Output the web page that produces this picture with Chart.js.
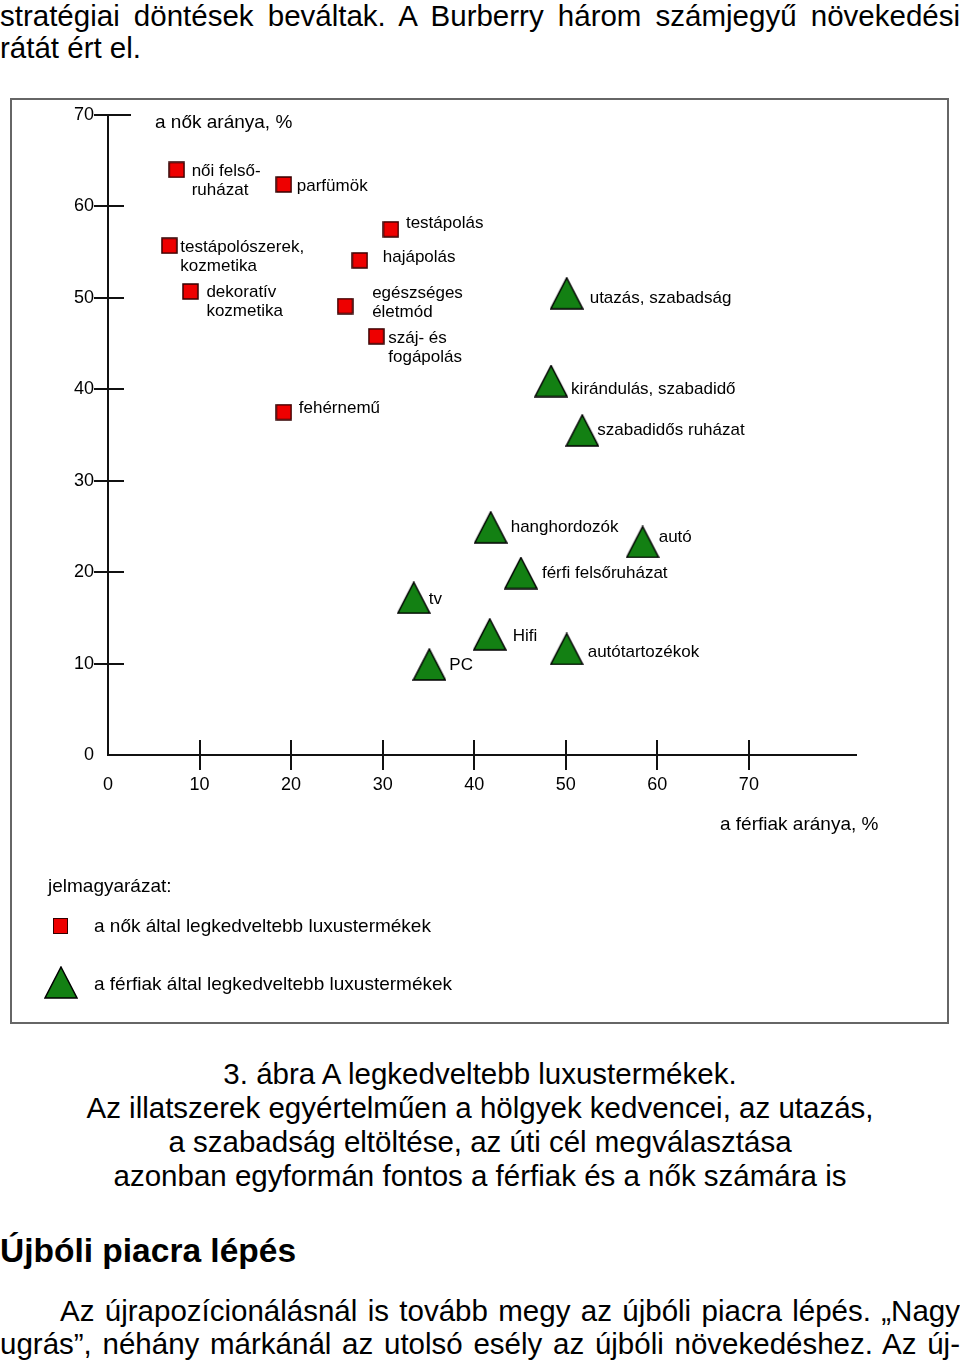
<!DOCTYPE html>
<html lang="hu">
<head>
<meta charset="utf-8">
<script src="https://cdn.jsdelivr.net/npm/chart.js@4/dist/chart.umd.min.js"></script>
<style>
  body { margin: 0; background: #fff; font-family: 'Liberation Sans', Arial, sans-serif; color: #000; }
  #page { position: relative; width: 960px; height: 1367px; overflow: hidden; }
  .txt { position: absolute; left: 0; width: 960px; font-size: 29.5px; line-height: 32px; margin: 0; white-space: nowrap; }
  .just { text-align: justify; text-align-last: justify; white-space: normal; }
  .cap { text-align: center; line-height: 34px; }
  #box { position: absolute; left: 10px; top: 98px; width: 935px; height: 922px; border: 2px solid #666; }
  #chart { position: absolute; left: 0; top: 0; }
  .leg { position: absolute; font-size: 19px; line-height: 22px; white-space: nowrap; }
  .sq { position: absolute; width: 13px; height: 14px; background: #ee0000; border: 1px solid #300; }
</style>
</head>
<body>
<div id="page">
  <div class="txt just" style="top:0">stratégiai döntések beváltak. A Burberry három számjegyű növekedési</div>
  <div class="txt" style="top:32px">rátát ért el.</div>

  <div id="box">
    <canvas id="chart" width="935" height="922"></canvas>
    <div class="leg" style="left:36px; top:775px">jelmagyarázat:</div>
    <div class="sq" style="left:41px; top:818px"></div>
    <div class="leg" style="left:82px; top:815px">a nők által legkedveltebb luxustermékek</div>
    <svg style="position:absolute; left:32px; top:866px" width="34" height="33">
      <polygon points="17,1 33,32 1,32" fill="#138013" stroke="#000" stroke-width="1.5"/>
    </svg>
    <div class="leg" style="left:82px; top:873px">a férfiak által legkedveltebb luxustermékek</div>
  </div>

  <div class="txt cap" style="top:1057px">3. ábra A legkedveltebb luxustermékek.</div>
  <div class="txt cap" style="top:1091px">Az illatszerek egyértelműen a hölgyek kedvencei, az utazás,</div>
  <div class="txt cap" style="top:1125px">a szabadság eltöltése, az úti cél megválasztása</div>
  <div class="txt cap" style="top:1159px">azonban egyformán fontos a férfiak és a nők számára is</div>

  <div class="txt" style="top:1233px; font-size:33.5px; line-height:36px; font-weight:bold">Újbóli piacra lépés</div>

  <div class="txt just" style="top:1294px; left:60px; width:900px; line-height:33px">Az újrapozícionálásnál is tovább megy az újbóli piacra lépés. „Nagy</div>
  <div class="txt just" style="top:1327px; line-height:33px">ugrás”, néhány márkánál az utolsó esély az újbóli növekedéshez. Az új-</div>
</div>

<script>
// a nők által kedvelt termékek (x: férfiak aránya %, y: nők aránya %)
var womenLabels = [['női felső-', 'ruházat'], ['parfümök'], ['testápolás'], ['testápolószerek,', 'kozmetika'],
  ['hajápolás'], ['dekoratív', 'kozmetika'], ['egészséges', 'életmód'], ['száj- és', 'fogápolás'], ['fehérnemű']];
var womenX = [7.5, 19.2, 30.9, 6.7, 27.5, 9.0, 25.9, 29.3, 19.2];
var womenY = [64.0, 62.4, 57.5, 55.7, 54.1, 50.7, 49.1, 45.8, 37.5];

// a férfiak által kedvelt termékek
var menLabels = [['utazás, szabadság'], ['kirándulás, szabadidő'], ['szabadidős ruházat'], ['hanghordozók'], ['autó'],
  ['férfi felsőruházat'], ['tv'], ['Hifi'], ['autótartozékok'], ['PC']];
var menX = [50.1, 48.4, 51.8, 41.8, 58.4, 45.1, 33.4, 41.7, 50.1, 35.1];
var menY = [50.5, 40.9, 35.5, 24.9, 23.3, 19.9, 17.2, 13.2, 11.6, 9.9];

var xTicks = [0, 10, 20, 30, 40, 50, 60, 70];
var yTicks = [0, 10, 20, 30, 40, 50, 60, 70];
var yTitle = 'a nők aránya, %';
var xTitle = 'a férfiak aránya, %';

// felirat eltolások a jelölő közepéhez képest (px)
var womenLabelOffsets = [[15, 1], [13, 2], [15, -6], [11, 2], [23, -3], [16, 1], [27, -13], [12, 2], [15, -4]];
var menLabelOffsets = [[23, 5], [20, 8], [15, 0], [20, 0], [16, -5], [21, 0], [15, 2], [23, 2], [21, 3], [20, 1]];

var FONT = "'Liberation Sans', Arial, sans-serif";

function makeSquare() {
  var c = document.createElement('canvas');
  c.width = 17; c.height = 17;
  var g = c.getContext('2d');
  g.fillStyle = '#ee0000';
  g.fillRect(1, 1, 15, 15);
  g.strokeStyle = '#300';
  g.lineWidth = 1.5;
  g.strokeRect(1, 1, 15, 15);
  return c;
}

function makeTriangle() {
  var c = document.createElement('canvas');
  c.width = 34; c.height = 33;
  var g = c.getContext('2d');
  g.beginPath();
  g.moveTo(17, 1); g.lineTo(33, 32); g.lineTo(1, 32); g.closePath();
  g.fillStyle = '#138013';
  g.fill();
  g.strokeStyle = '#000';
  g.lineWidth = 1.5;
  g.stroke();
  return c;
}

function toPoints(xs, ys) {
  var pts = [];
  for (var i = 0; i < xs.length; i++) pts.push({x: xs[i], y: ys[i]});
  return pts;
}

// tengely jelölések, címek és pont feliratok
var decorPlugin = {
  id: 'decor',
  afterDraw: function(chart) {
    var ctx = chart.ctx, xs = chart.scales.x, ys = chart.scales.y, area = chart.chartArea;
    ctx.save();
    ctx.strokeStyle = '#111';
    ctx.lineWidth = 2;
    yTicks.forEach(function(v) {
      if (v === 0) return;
      var py = Math.round(ys.getPixelForValue(v));
      ctx.beginPath();
      ctx.moveTo(area.left - 14, py);
      ctx.lineTo(area.left + (v === 70 ? 23 : 16), py);
      ctx.stroke();
    });
    xTicks.forEach(function(v) {
      if (v === 0) return;
      var px = Math.round(xs.getPixelForValue(v));
      ctx.beginPath();
      ctx.moveTo(px, area.bottom - 15);
      ctx.lineTo(px, area.bottom + 15);
      ctx.stroke();
    });

    ctx.fillStyle = '#000';
    ctx.font = '19px ' + FONT;
    ctx.textBaseline = 'middle';
    ctx.textAlign = 'left';
    ctx.fillText(yTitle, area.left + 47, area.top + 8);
    ctx.fillText(xTitle, area.left + 612, area.bottom + 70);

    ctx.font = '17px ' + FONT;
    var sets = [[womenLabels, womenLabelOffsets], [menLabels, menLabelOffsets]];
    sets.forEach(function(s, di) {
      var meta = chart.getDatasetMeta(di);
      meta.data.forEach(function(el, i) {
        var off = s[1][i];
        s[0][i].forEach(function(line, k) {
          ctx.fillText(line, el.x + off[0], el.y + off[1] + k * 19);
        });
      });
    });
    ctx.restore();
  }
};

new Chart(document.getElementById('chart'), {
  type: 'scatter',
  data: {
    datasets: [
      { label: 'a nők által legkedveltebb luxustermékek', data: toPoints(womenX, womenY), pointStyle: makeSquare() },
      { label: 'a férfiak által legkedveltebb luxustermékek', data: toPoints(menX, menY), pointStyle: makeTriangle() }
    ]
  },
  options: {
    responsive: false,
    animation: false,
    devicePixelRatio: 1,
    layout: { padding: { left: 0, top: 15, right: 91, bottom: 227 } },
    plugins: { legend: { display: false }, tooltip: { enabled: false } },
    scales: {
      x: {
        type: 'linear', min: 0, max: 81.7,
        afterBuildTicks: function(scale) { scale.ticks = xTicks.map(function(v) { return {value: v}; }); },
        afterFit: function(scale) { scale.height = 40; scale.paddingLeft = 0; scale.paddingRight = 0; },
        grid: { display: false, drawTicks: false },
        border: { display: true, color: '#111', width: 2 },
        ticks: { color: '#000', font: { family: FONT, size: 18 }, padding: 19, maxRotation: 0 }
      },
      y: {
        type: 'linear', min: 0, max: 70,
        afterBuildTicks: function(scale) { scale.ticks = yTicks.map(function(v) { return {value: v}; }); },
        afterFit: function(scale) { scale.width = 96; scale.paddingTop = 0; scale.paddingBottom = 0; },
        grid: { display: false, drawTicks: false },
        border: { display: true, color: '#111', width: 2 },
        ticks: { color: '#000', font: { family: FONT, size: 18 }, padding: 14 }
      }
    }
  },
  plugins: [decorPlugin]
});
</script>
</body>
</html>
